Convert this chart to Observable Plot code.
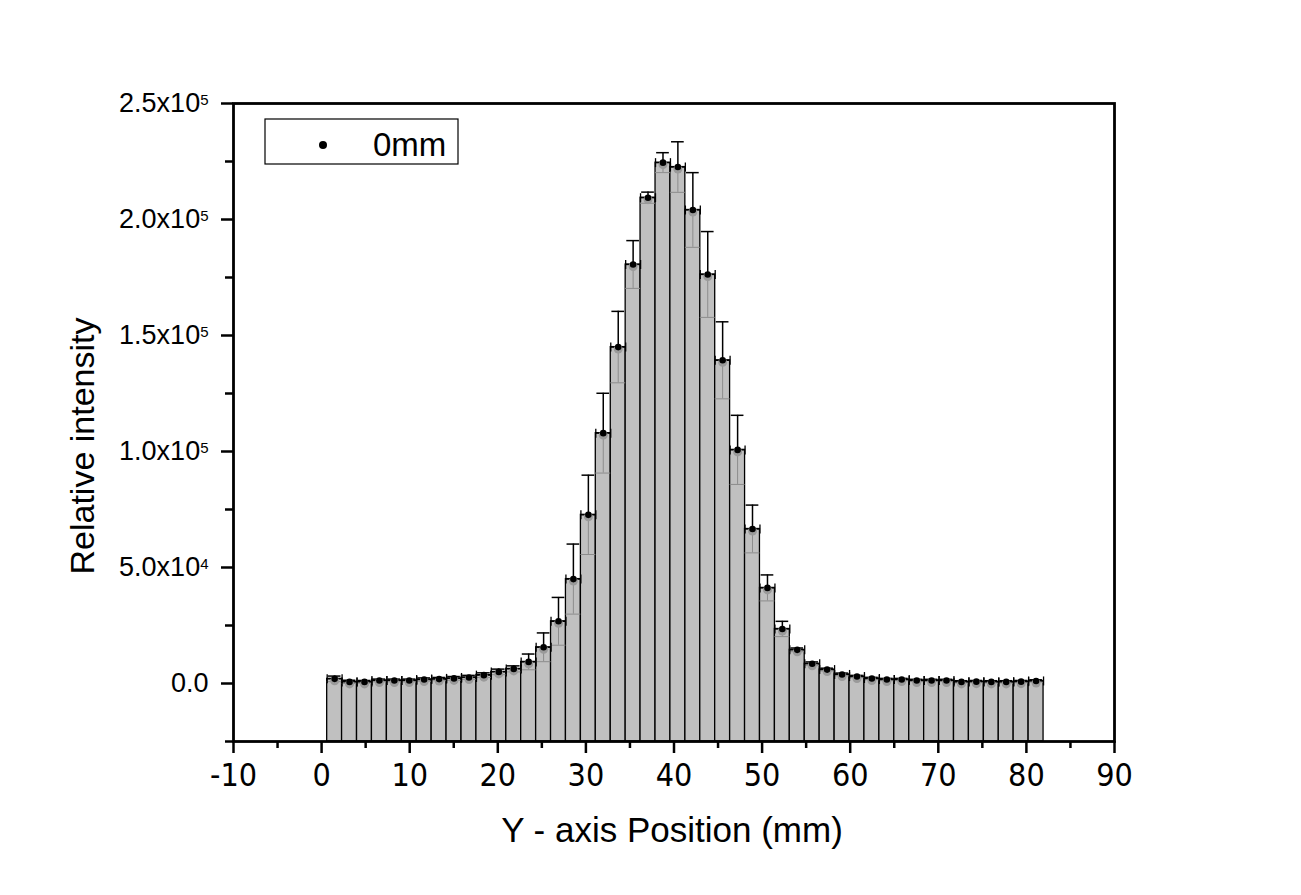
<!DOCTYPE html>
<html>
<head>
<meta charset="utf-8">
<script src="https://cdn.jsdelivr.net/npm/d3@7"></script>
<script src="https://cdn.jsdelivr.net/npm/@observablehq/plot@0.6"></script>
<style>
  html, body { margin: 0; padding: 0; background: #fff; }
  #chart { width: 1301px; height: 895px; }
</style>
</head>
<body>
<div id="chart"></div>
<script>
// ---- Data ----
const xCenters = [1.48, 3.17, 4.87, 6.56, 8.26, 9.95, 11.64, 13.34, 15.03, 16.73,
  18.42, 20.11, 21.81, 23.50, 25.20, 26.89, 28.58, 30.28, 31.97, 33.67,
  35.36, 37.05, 38.75, 40.44, 42.14, 43.83, 45.52, 47.22, 48.91, 50.61,
  52.30, 53.99, 55.69, 57.38, 59.08, 60.77, 62.46, 64.16, 65.85, 67.55,
  69.24, 70.93, 72.63, 74.32, 76.02, 77.71, 79.40, 81.10];
const intensity = [2000, 700, 700, 1300, 1300, 1300, 1700, 1900, 2200, 2600,
  3600, 5000, 6300, 9300, 15600, 26800, 45000, 72700, 107900, 145000,
  180600, 209400, 224500, 222600, 204100, 176300, 139300, 100700, 66600, 41200,
  23500, 14500, 8500, 6000, 3900, 3000, 2150, 1700, 1700, 1300,
  1300, 1300, 700, 800, 700, 700, 800, 1100];
const errorValues = [1200, 700, 600, 600, 600, 600, 700, 700, 800, 900,
  1000, 1200, 1300, 3400, 6200, 10300, 15100, 17100, 17200, 15400,
  10300, 2400, 4300, 10900, 16100, 18500, 16600, 14900, 10300, 5600,
  3300, 800, 800, 600, 600, 500, 500, 500, 500, 500,
  500, 500, 500, 500, 500, 500, 500, 500];
const seriesName = "0mm";
const xMajorTicks = [-10, 0, 10, 20, 30, 40, 50, 60, 70, 80, 90];
const xMinorTicks = [-5, 5, 15, 25, 35, 45, 55, 65, 75, 85];
const yMajorTicks = [0, 50000, 100000, 150000, 200000, 250000];
const yTickLabels = ["0.0", "5.0x10^4", "1.0x10^5", "1.5x10^5", "2.0x10^5", "2.5x10^5"];
const yMinorTicks = [-25000, 25000, 75000, 125000, 175000, 225000];
const xTitle = "Y - axis Position (mm)";
const yTitle = "Relative intensity";

// ---- Build ----
const xDomain = [-10, 90];
const yDomain = [-25000, 250000];
const binWidth = 1.694;   // bar width in mm
const capHalf = 0.72;     // half width of upper error cap in mm
const data = xCenters.map((x, i) => ({x, v: intensity[i], e: errorValues[i]}));

const vline = {
  draw(context, size) {
    const h = Math.sqrt(size / Math.PI);
    context.moveTo(0, -h);
    context.lineTo(0, h);
  }
};

const font = "'Liberation Sans', Arial, sans-serif";
const narrow = "'Liberation Sans Narrow', 'Arial Narrow', 'DejaVu Sans Condensed', sans-serif";

const plot = Plot.plot({
  width: 1301,
  height: 895,
  marginLeft: 233,
  marginRight: 187,
  marginTop: 103,
  marginBottom: 154,
  style: {background: "#fff", fontFamily: font, color: "#000"},
  x: {domain: xDomain},
  y: {domain: yDomain},
  marks: [
    Plot.rectY(data, {
      x1: d => d.x - binWidth / 2, x2: d => d.x + binWidth / 2,
      y1: yDomain[0], y2: "v",
      fill: "#c0c0c0", stroke: "#000", strokeWidth: 1.3
    }),
    // lower (grey) error bars
    Plot.ruleX(data, {x: "x", y1: d => d.v - d.e, y2: "v", stroke: "#8c8c8c", strokeWidth: 1}),
    Plot.ruleY(data, {y: d => d.v - d.e, x1: d => d.x - binWidth / 2, x2: d => d.x + binWidth / 2, stroke: "#8c8c8c", strokeWidth: 1}),
    // horizontal error bar at the top of each bar
    Plot.ruleY(data, {y: "v", x1: d => d.x - binWidth / 2, x2: d => d.x + binWidth / 2, stroke: "#000", strokeWidth: 1.3}),
    Plot.dot(data, {x: d => d.x - binWidth / 2, y: "v", symbol: vline, r: 4.5, stroke: "#000", strokeWidth: 1.3, fill: "none"}),
    Plot.dot(data, {x: d => d.x + binWidth / 2, y: "v", symbol: vline, r: 4.5, stroke: "#000", strokeWidth: 1.3, fill: "none"}),
    // upper (black) error bars
    Plot.ruleX(data, {x: "x", y1: "v", y2: d => d.v + d.e, stroke: "#000", strokeWidth: 1.5}),
    Plot.ruleY(data, {y: d => d.v + d.e, x1: d => d.x - capHalf, x2: d => d.x + capHalf, stroke: "#000", strokeWidth: 1.5}),
    // points
    Plot.dot(data, {x: "x", y: "v", r: 4.5, fill: "#9a9a9a", dy: 2}),
    Plot.dot(data, {x: "x", y: "v", r: 3.3, fill: "#000"}),
    // axes
    Plot.axisX(xMajorTicks, {tickSize: 12, tickPadding: 10, strokeWidth: 2.5, fontSize: 32, fontFamily: narrow, tickFormat: d => String(d), label: null}),
    Plot.axisX(xMinorTicks, {tickSize: 7, strokeWidth: 2.5, tickFormat: () => "", label: null}),
    Plot.axisY(yMajorTicks, {tickSize: 12, tickPadding: 13, strokeWidth: 2.5, fontSize: 27, fontFamily: font, tickFormat: d => yTickLabels[yMajorTicks.indexOf(d)], label: null}),
    Plot.axisY(yMinorTicks, {tickSize: 8, strokeWidth: 2.5, tickFormat: () => "", label: null}),
    Plot.frame({stroke: "#000", strokeWidth: 2.8})
  ]
});

document.getElementById("chart").appendChild(plot);

const svg = d3.select(plot);

// superscripts in y tick labels
svg.selectAll("text").each(function () {
  const t = this.textContent;
  if (t.includes("^")) {
    const [m, e] = t.split("^");
    const sel = d3.select(this);
    sel.text(null);
    sel.append("tspan").text(m);
    sel.append("tspan").attr("dy", "-0.5em").attr("font-size", 15).text(e);
  }
});

// axis titles
svg.append("text")
  .attr("x", 672).attr("y", 842)
  .attr("text-anchor", "middle")
  .attr("font-family", font).attr("font-size", 35)
  .attr("fill", "#000")
  .text(xTitle);
svg.append("text")
  .attr("transform", "translate(94,446) rotate(-90)")
  .attr("text-anchor", "middle")
  .attr("font-family", font).attr("font-size", 34)
  .attr("fill", "#000")
  .text(yTitle);

// legend
const lg = svg.append("g");
lg.append("rect").attr("x", 265).attr("y", 119).attr("width", 193).attr("height", 45)
  .attr("fill", "#fff").attr("stroke", "#000").attr("stroke-width", 1.2);
lg.append("circle").attr("cx", 323).attr("cy", 145).attr("r", 4).attr("fill", "#000");
lg.append("text").attr("x", 373).attr("y", 156).attr("text-anchor", "start")
  .attr("font-family", font).attr("font-size", 33)
  .attr("fill", "#000").text(seriesName);
</script>
</body>
</html>
